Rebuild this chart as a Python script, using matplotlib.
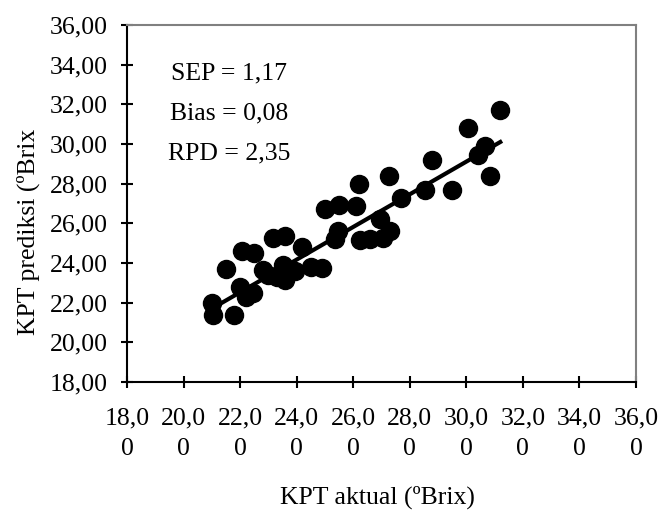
import matplotlib

matplotlib.use("Agg")
import matplotlib.pyplot as plt

kpt_actual = [
    21.0, 21.05, 21.8, 21.5, 22.05, 22.5, 22.0, 22.2, 22.45,
    23.15, 23.6, 22.8, 23.0, 23.3, 23.5, 23.6, 23.95, 24.2, 24.5, 24.9,
    25.0, 25.5, 26.1, 26.2, 27.25, 25.35, 25.45, 26.25, 26.6, 26.95,
    27.05, 27.3, 27.7, 28.55, 28.8, 29.5, 30.05, 30.4, 30.65, 30.85, 31.2,
]
kpt_pred = [
    22.0, 21.4, 21.4, 23.7, 24.6, 24.5, 22.8, 22.3, 22.5,
    25.25, 25.35, 23.65, 23.4, 23.3, 23.9, 23.15, 23.6, 24.8, 23.8, 23.75,
    26.7, 26.9, 26.85, 28.0, 28.4, 25.2, 25.6, 25.15, 25.2, 26.2,
    25.25, 25.6, 27.3, 27.7, 29.2, 27.7, 30.8, 29.45, 29.9, 28.4, 31.7,
]

# trend line end points
line_x = [21.0, 31.2]
line_y = [21.7, 30.1]

stats = ["SEP = 1,17", "Bias = 0,08", "RPD = 2,35"]

x_ticks = [18, 20, 22, 24, 26, 28, 30, 32, 34, 36]
x_ticklabels = ["18,0\n0", "20,0\n0", "22,0\n0", "24,0\n0", "26,0\n0",
                "28,0\n0", "30,0\n0", "32,0\n0", "34,0\n0", "36,0\n0"]
y_ticks = [18, 20, 22, 24, 26, 28, 30, 32, 34, 36]
y_ticklabels = ["18,00", "20,00", "22,00", "24,00", "26,00",
                "28,00", "30,00", "32,00", "34,00", "36,00"]

plt.rcParams["font.family"] = ["Liberation Serif", "DejaVu Serif"]
fs = 18.5

fig = plt.figure(figsize=(6.6, 5.16), dpi=100)
ax = fig.add_axes([127 / 660, 1 - 382 / 516, (636 - 127) / 660, (382 - 25) / 516])

ax.plot(kpt_actual, kpt_pred, "o", color="black", markersize=13, zorder=3)
ax.plot(line_x, line_y, color="black", linewidth=3, zorder=2)

ax.set_xlim(18, 36)
ax.set_ylim(18, 36)
ax.set_xticks(x_ticks)
ax.set_xticklabels(x_ticklabels, fontsize=fs, linespacing=1.55)
ax.set_yticks(y_ticks)
ax.set_yticklabels(y_ticklabels, fontsize=fs)
ax.tick_params(axis="x", direction="inout", length=8, width=1.5, pad=14)
ax.tick_params(axis="y", direction="inout", length=8, width=1.5, pad=10)

for side in ["left", "bottom"]:
    ax.spines[side].set_linewidth(1.5)
    ax.spines[side].set_color("black")
for side in ["top", "right"]:
    ax.spines[side].set_linewidth(1.5)
    ax.spines[side].set_color("#808080")

for i, s in enumerate(stats):
    ax.text(0.2, 0.865 - i * 0.112, s, transform=ax.transAxes, fontsize=fs,
            ha="center", va="center")

fig.text(377 / 660, 1 - 497 / 516, "KPT aktual (ºBrix)", fontsize=fs,
         ha="center", va="center")
fig.text(28 / 660, 1 - 232 / 516, "KPT prediksi (ºBrix", fontsize=fs,
         ha="center", va="center", rotation=90)

fig.savefig("out.png", dpi=100)
